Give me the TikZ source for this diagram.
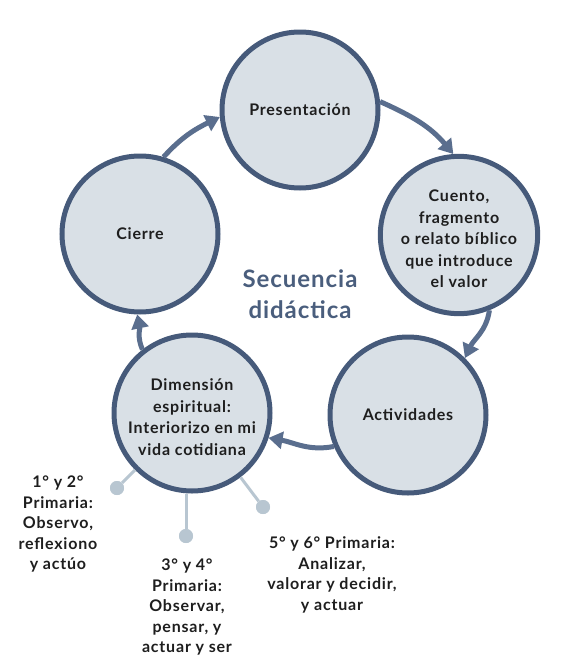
\documentclass[tikz,border=0pt]{standalone}
\usepackage{fontspec}
\setmainfont{Lato}
\usetikzlibrary{arrows.meta}
\definecolor{circfill}{RGB}{217,224,230}
\definecolor{circline}{RGB}{70,90,122}
\definecolor{arrowc}{RGB}{90,110,142}
\definecolor{stemc}{RGB}{184,198,209}
\definecolor{titlec}{RGB}{74,94,125}
\definecolor{txt}{RGB}{30,30,30}
\newcommand{\topstrut}{\rule{0pt}{20pt}}
\begin{document}
\begin{tikzpicture}[x=1pt,y=1pt,
  stepcirc/.style={circle, draw=circline, line width=5pt, fill=circfill,
    minimum size=156pt, inner sep=0pt, align=center, text=txt,
    font=\bfseries\fontsize{16}{21.5}\selectfont\addfontfeatures{LetterSpace=5}},
  flow/.style={draw=arrowc, line width=5pt, -{Triangle[length=14pt,width=17pt]}},
  stemline/.style={draw=stemc, line width=3pt},
  stemdot/.style={circle, fill=stemc, minimum size=14pt, inner sep=0pt},
  lbl/.style={align=center, text=txt, font=\bfseries\fontsize{16}{20.5}\selectfont\addfontfeatures{LetterSpace=5}},
  ttl/.style={align=center, text=titlec, font=\bfseries\fontsize{24}{31}\selectfont\addfontfeatures{LetterSpace=4}}]
\useasboundingbox (0,0) rectangle (582,-667);

\node[stepcirc] (pres) at (300,-110) {Presentación};
\node[stepcirc] (cuento) at (459,-235) {\topstrut Cuento,\\fragmento\\o relato bíblico\\que introduce\\el valor};
\node[stepcirc] (act) at (408,-415) {Actividades};
\node[stepcirc] (dim) at (192,-413) {\topstrut Dimensión\\espiritual:\\Interiorizo en mi\\vida cotidiana};
\node[stepcirc] (cierre) at (140,-234) {Cierre};

\node[ttl] (title) at (300,-294) {Secuencia\\didáctica};

\draw[flow] (cierre.73) to[out=48,in=206] (pres.185);
\draw[flow] (pres.6) to[out=-24,in=130] (cuento.94);
\draw[flow] (cuento.-68) to[out=-98,in=65] (act.45);
\draw[flow] (act.203) to[out=191,in=350] (dim.-18);
\draw[flow] (dim.128) to[out=114,in=-78] (cierre.-92);

\node[stemdot] (d1) at (117,-488) {};
\node[stemdot] (d2) at (186,-536) {};
\node[stemdot] (d3) at (263,-507) {};
\draw[stemline] (dim) -- (d1);
\draw[stemline] (d2 |- dim.south) -- (d2);
\draw[stemline] (dim) -- (d3);
\node[stemdot] at (117,-488) {};
\node[stemdot] at (186,-536) {};
\node[stemdot] at (263,-507) {};

\node[lbl] (l1) at (58,-524) {1° y 2°\\Primaria:\\Observo,\\reflexiono\\y actúo};
\node[lbl] (l2) at (187,-607) {3° y 4°\\Primaria:\\Observar,\\pensar, y\\actuar y ser};
\node[lbl] (l3) at (332,-575) {5° y 6° Primaria:\\Analizar,\\valorar y decidir,\\y actuar};
\end{tikzpicture}
\end{document}
